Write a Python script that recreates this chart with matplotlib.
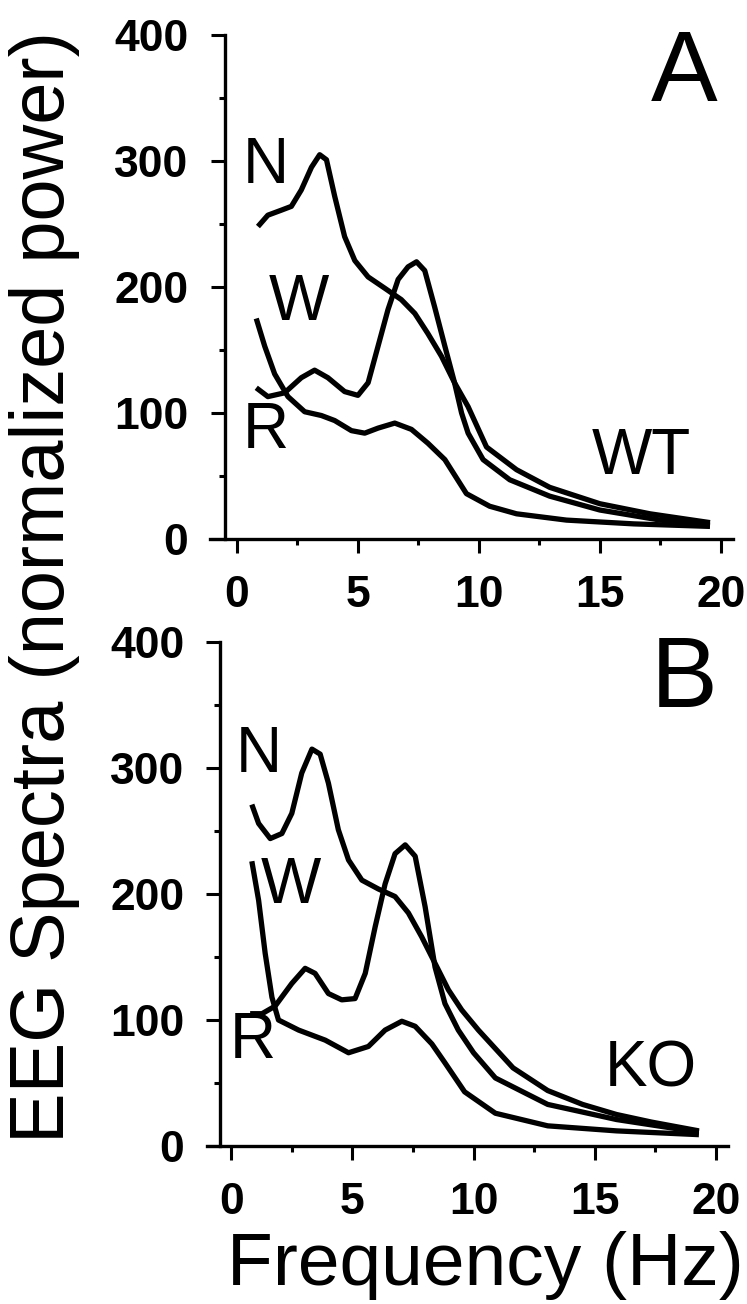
import matplotlib
matplotlib.use("Agg")
import matplotlib.pyplot as plt
from matplotlib.ticker import MultipleLocator

plt.rcParams["font.family"] = ["Liberation Sans", "DejaVu Sans"]

# ----------------------------------------
#  Data (frequency in Hz, normalized power)
# ----------------------------------------
# Panel A (WT)
a_n_x = [0.88, 1.29, 1.85, 2.26, 2.67, 3.09, 3.43, 3.71, 4.05, 4.46, 4.88, 5.43, 6.12, 6.8, 7.36,
         7.9, 8.46, 9.0, 9.56, 10.32, 11.56, 12.93, 15.0, 17.07, 19.55]
a_n_y = [248, 257, 261, 264, 277, 295, 305, 301, 272, 240, 221, 208, 199, 190, 179,
         163, 145, 124, 105, 73, 55, 41, 28, 20, 13]

a_w_x = [0.81, 1.16, 1.57, 2.12, 2.81, 3.5, 4.05, 4.74, 5.29, 5.84, 6.53, 7.22, 7.9, 8.6,
         9.49, 10.45, 11.56, 13.62, 16.4, 19.55]
a_w_y = [175, 153, 131, 113, 101, 98, 94, 86, 84, 88, 92, 87, 76, 63,
         36, 26, 20, 15, 12, 10]

a_r_x = [0.81, 1.29, 1.98, 2.67, 3.22, 3.77, 4.46, 5.01, 5.43, 5.84, 6.25, 6.67, 7.08, 7.43, 7.77,
         8.18, 8.6, 9.0, 9.29, 9.56, 10.18, 11.28, 12.93, 15.0, 17.5, 19.55]
a_r_y = [120, 113, 116, 128, 134, 128, 117, 114, 124, 153, 182, 206, 216, 220, 213,
         184, 153, 124, 100, 84, 63, 47, 34, 23, 15, 11]

# Panel B (KO)
b_n_x = [0.85, 1.13, 1.61, 2.09, 2.5, 2.91, 3.33, 3.67, 4.01, 4.42, 4.84, 5.39, 6.07, 6.76, 7.31,
         7.86, 8.41, 8.96, 9.51, 10.2, 11.63, 13.06, 14.5, 15.9, 17.34, 19.3]
b_n_y = [271, 256, 244, 248, 264, 296, 315, 311, 288, 251, 227, 211, 204, 198, 185,
         166, 145, 124, 108, 92, 62, 44, 33, 25, 19, 12]

b_w_x = [0.85, 1.13, 1.4, 1.68, 1.95, 2.78, 3.88, 4.84, 5.66, 6.35, 7.04, 7.59, 8.28, 8.82,
         9.63, 10.9, 13.06, 15.9, 19.3]
b_w_y = [226, 195, 153, 118, 100, 92, 84, 74, 79, 92, 99, 95, 81, 66,
         43, 26, 16, 12, 9]

b_r_x = [0.78, 1.27, 1.81, 2.5, 3.05, 3.46, 4.01, 4.56, 5.11, 5.53, 5.94, 6.35, 6.76, 7.18, 7.59,
         8.0, 8.41, 8.82, 9.37, 10.0, 10.9, 13.06, 15.9, 19.3]
b_r_y = [105, 105, 111, 129, 141, 137, 121, 116, 117, 137, 174, 208, 232, 239, 230,
         190, 142, 113, 92, 74, 54, 33, 21, 11]

Y_TICKS = [0, 100, 200, 300, 400]
X_TICKS = [0, 5, 10, 15, 20]


def style_axis(ax, xlo, spine_x):
    ax.set_xlim(xlo, 20.5)
    ax.set_ylim(0, 400)
    ax.spines["top"].set_visible(False)
    ax.spines["right"].set_visible(False)
    ax.spines["left"].set_position(("data", spine_x))
    for s in ("left", "bottom"):
        ax.spines[s].set_linewidth(2.4)
    ax.set_xticks(X_TICKS)
    ax.set_yticks(Y_TICKS)
    ax.xaxis.set_minor_locator(MultipleLocator(2.5))
    ax.yaxis.set_minor_locator(MultipleLocator(50))
    ax.tick_params(which="major", length=10, width=2.2, pad=16, labelsize=32)
    ax.tick_params(which="minor", length=4, width=2.2)
    for lab in ax.get_xticklabels() + ax.get_yticklabels():
        lab.set_fontweight("bold")
    ax.patch.set_alpha(0)


def draw_curves(ax, series):
    for xs, ys in series:
        ax.plot(xs, ys, color="black", lw=3.8, solid_capstyle="butt", solid_joinstyle="round")


fig = plt.figure(figsize=(7.47, 13.04), dpi=100)

# Panel A
ax_a = fig.add_axes([210 / 747, 1 - 539 / 1304, 523 / 747, 504 / 1304])
style_axis(ax_a, -1.1, -0.5)
draw_curves(ax_a, [(a_n_x, a_n_y), (a_w_x, a_w_y), (a_r_x, a_r_y)])
ax_a.text(1.22, 296, "N", fontsize=46, ha="center", va="center")
ax_a.text(2.55, 187, "W", fontsize=46, ha="center", va="center")
ax_a.text(1.22, 86, "R", fontsize=46, ha="center", va="center")
ax_a.text(16.7, 65, "WT", fontsize=46, ha="center", va="center")
ax_a.text(18.5, 368, "A", fontsize=72, ha="center", va="center")

# Panel B
ax_b = fig.add_axes([207 / 747, 1 - 1146 / 1304, 521 / 747, 504 / 1304])
style_axis(ax_b, -1.0, -0.45)
draw_curves(ax_b, [(b_n_x, b_n_y), (b_w_x, b_w_y), (b_r_x, b_r_y)])
ax_b.text(1.13, 310, "N", fontsize=46, ha="center", va="center")
ax_b.text(2.46, 206, "W", fontsize=46, ha="center", va="center")
ax_b.text(0.91, 83, "R", fontsize=46, ha="center", va="center")
ax_b.text(17.3, 61, "KO", fontsize=46, ha="center", va="center")
ax_b.text(18.7, 369, "B", fontsize=72, ha="center", va="center")

fig.text(45 / 747, 1 - 587 / 1304, "EEG Spectra (normalized power)", rotation=90,
         fontsize=54.5, ha="center", va="center")
fig.text(485 / 747, 1 - 1266 / 1304, "Frequency (Hz)", fontsize=54, ha="center", va="center")

fig.savefig("out.png", dpi=100)
